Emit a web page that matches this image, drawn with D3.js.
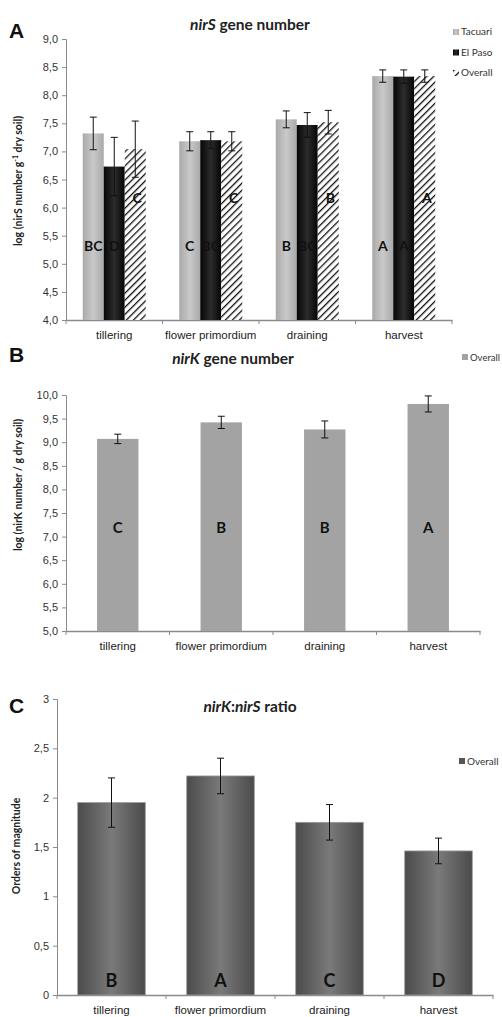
<!DOCTYPE html>
<html>
<head>
<meta charset="utf-8">
<script src="https://cdn.jsdelivr.net/npm/d3@7"></script>
<style>
  body { margin: 0; background: #fff; }
  svg { display: block; font-family: Lato, "Liberation Sans", sans-serif; }
</style>
</head>
<body>
<script>
// stades de culture
const stages = ["tillering", "flower primordium", "draining", "harvest"]

// panneau A : nirS (log)
const nirSTacuari = [7.32, 7.18, 7.57, 8.34]
const nirSTacuariErr = [0.29, 0.17, 0.15, 0.11]
const nirSElPaso = [6.73, 7.20, 7.47, 8.33]
const nirSElPasoErr = [0.52, 0.15, 0.22, 0.12]
const nirSOverall = [7.04, 7.18, 7.52, 8.34]
const nirSOverallErr = [0.50, 0.17, 0.21, 0.11]
const nirSLetters = [["BC", "D", "C"], ["C", "BC", "C"], ["B", "BC", "B"], ["A", "A", "A"]]
const nirSTicks = [4.0, 4.5, 5.0, 5.5, 6.0, 6.5, 7.0, 7.5, 8.0, 8.5, 9.0]

// panneau B : nirK (log)
const nirKOverall = [9.07, 9.42, 9.27, 9.81]
const nirKOverallErr = [0.10, 0.13, 0.18, 0.17]
const nirKLetters = ["C", "B", "B", "A"]
const nirKTicks = [5.0, 5.5, 6.0, 6.5, 7.0, 7.5, 8.0, 8.5, 9.0, 9.5, 10.0]

// panneau C : ratio nirK:nirS
const ratioOverall = [1.95, 2.22, 1.75, 1.46]
const ratioOverallErr = [0.25, 0.18, 0.18, 0.13]
const ratioLetters = ["B", "A", "C", "D"]
const ratioTicks = [0, 0.5, 1, 1.5, 2, 2.5, 3]

const fmt = v => (Number.isInteger(v) && v < 4 ? String(v) : d3.format(".1f")(v).replace(".", ","))

const svg = d3.select("body").append("svg")
    .attr("width", 502)
    .attr("height", 1017)

const defs = svg.append("defs")

// dégradés
function hGrad(id, edge, mid) {
    const g = defs.append("linearGradient").attr("id", id)
        .attr("x1", "0%").attr("x2", "100%").attr("y1", "0%").attr("y2", "0%")
    g.append("stop").attr("offset", "0%").attr("stop-color", edge)
    g.append("stop").attr("offset", "50%").attr("stop-color", mid)
    g.append("stop").attr("offset", "100%").attr("stop-color", edge)
}
hGrad("gTac", "#a9a9a9", "#c9c9c9")
hGrad("gElp", "#050505", "#2c2c2c")
hGrad("gRat", "#4b4b4b", "#7a7a7a")

// hachures
const pat = defs.append("pattern").attr("id", "hatch")
    .attr("patternUnits", "userSpaceOnUse")
    .attr("width", 5).attr("height", 5)
    .attr("patternTransform", "rotate(45)")
pat.append("rect").attr("width", 5).attr("height", 5).attr("fill", "#fff")
pat.append("line").attr("x1", 0).attr("y1", 0).attr("x2", 0).attr("y2", 5)
    .attr("stroke", "#111").attr("stroke-width", 2.6)

// axes communs
function drawAxes(x, y, ticks, tickLen) {
    const [x0, x1] = x.range()
    const [yb] = y.range()
    const g = svg.append("g")
    g.append("g")
        .attr("transform", `translate(${x0},0)`)
        .call(d3.axisLeft(y).tickValues(ticks).tickFormat(fmt).tickSize(tickLen).tickPadding(4))
        .call(a => a.select(".domain").attr("stroke", "#8a8a8a"))
        .call(a => a.selectAll(".tick line").attr("stroke", "#8a8a8a"))
        .call(a => a.selectAll("text").attr("font-size", 11).attr("fill", "#333"))

    g.append("g")
        .attr("transform", `translate(0,${yb})`)
        .call(d3.axisBottom(x).tickSize(0).tickPadding(11))
        .call(a => a.select(".domain").attr("stroke", "#8a8a8a").attr("stroke-width", 1.3))
        .call(a => a.selectAll("text").attr("font-size", 11.5).attr("fill", "#222"))

    // graduations entre les catégories
    const bounds = d3.range(x.domain().length + 1).map(i => x0 + i * x.step())
    g.selectAll(".bt").data(bounds).enter().append("line")
        .attr("x1", d => d).attr("x2", d => d)
        .attr("y1", yb).attr("y2", yb + 4)
        .attr("stroke", "#8a8a8a")
}

function errBars(g, data, cx, y, cap) {
    g.selectAll(null).data(data).enter().append("path")
        .attr("d", d => {
            const xc = cx(d), t = y(d.v + d.e), b = y(d.v - d.e)
            return `M${xc},${t}V${b}M${xc - cap},${t}H${xc + cap}M${xc - cap},${b}H${xc + cap}`
        })
        .attr("stroke", "#111").attr("stroke-width", 1).attr("fill", "none")
}

function yLabel(x, yc, parts) {
    const t = svg.append("text")
        .attr("transform", `translate(${x},${yc}) rotate(-90)`)
        .attr("text-anchor", "middle")
        .attr("font-size", 10.5).attr("font-weight", "bold").attr("fill", "#222")
    parts.forEach(p => {
        const s = t.append("tspan").text(p.t)
        if (p.sup) s.attr("baseline-shift", "super").attr("font-size", 7)
    })
}

function title(xc, yc, parts) {
    const t = svg.append("text")
        .attr("x", xc).attr("y", yc)
        .attr("text-anchor", "middle")
        .attr("font-size", 15.5).attr("font-weight", "bold").attr("fill", "#222")
    parts.forEach(p => {
        const s = t.append("tspan").text(p.t)
        if (p.i) s.attr("font-style", "italic")
    })
}

function panelLetter(x, y, l) {
    svg.append("text").attr("x", x).attr("y", y).text(l)
        .attr("font-family", "Liberation Sans, Arial, sans-serif")
        .attr("font-size", 21).attr("font-weight", "bold").attr("fill", "#111")
}

// ---------- panneau A ----------
{
    const x = d3.scaleBand().domain(stages).range([66, 452]).paddingInner(0.347).paddingOuter(0.1735)
    const y = d3.scaleLinear().domain([4, 9]).range([320, 39])
    const series = ["Tacuari", "El Paso", "Overall"]
    const x1 = d3.scaleBand().domain(series).range([0, x.bandwidth()])
    const fills = { "Tacuari": "url(#gTac)", "El Paso": "url(#gElp)", "Overall": "url(#hatch)" }
    const vals = { "Tacuari": nirSTacuari, "El Paso": nirSElPaso, "Overall": nirSOverall }
    const errs = { "Tacuari": nirSTacuariErr, "El Paso": nirSElPasoErr, "Overall": nirSOverallErr }

    const data = []
    stages.forEach((s, i) => series.forEach((k, j) => data.push({ s, k, v: vals[k][i], e: errs[k][i], l: nirSLetters[i][j] })))

    drawAxes(x, y, nirSTicks, 4)
    const g = svg.append("g")
    g.selectAll("rect").data(data).enter().append("rect")
        .attr("x", d => x(d.s) + x1(d.k))
        .attr("y", d => y(d.v))
        .attr("width", x1.bandwidth())
        .attr("height", d => y(4) - y(d.v))
        .attr("fill", d => fills[d.k])
    errBars(g, data, d => x(d.s) + x1(d.k) + x1.bandwidth() / 2, y, 3.5)

    g.selectAll(".lt").data(data).enter().append("text")
        .attr("x", d => x(d.s) + x1(d.k) + x1.bandwidth() / 2 + (d.k === "Overall" ? 2 : 0))
        .attr("y", d => d.k === "Overall" ? 203 : 251)
        .attr("text-anchor", "middle")
        .attr("font-size", 14).attr("font-weight", "bold").attr("fill", "#111")
        .text(d => d.l)

    title(250, 30, [{ t: "nirS", i: true }, { t: " gene number" }])
    panelLetter(9, 38, "A")
    yLabel(22, 181, [{ t: "log (nirS number g" }, { t: "-1", sup: true }, { t: " dry soil)" }])

    // légende
    const lg = svg.append("g").attr("font-size", 10).attr("fill", "#333")
    series.forEach((k, j) => {
        const yy = 33 + j * 20.5
        lg.append("rect").attr("x", 453).attr("y", yy - 4).attr("width", 6).attr("height", 6).attr("fill", fills[k])
        lg.append("text").attr("x", 461).attr("y", yy + 2).text(k).attr("fill", "#333")
    })
}

// ---------- panneau B ----------
{
    const x = d3.scaleBand().domain(stages).range([66, 480]).paddingInner(0.6).paddingOuter(0.3)
    const y = d3.scaleLinear().domain([5, 10]).range([631, 395])
    const data = stages.map((s, i) => ({ s, v: nirKOverall[i], e: nirKOverallErr[i], l: nirKLetters[i] }))

    drawAxes(x, y, nirKTicks, 4)
    const g = svg.append("g")
    g.selectAll("rect").data(data).enter().append("rect")
        .attr("x", d => x(d.s))
        .attr("y", d => y(d.v))
        .attr("width", x.bandwidth())
        .attr("height", d => y(5) - y(d.v))
        .attr("fill", "#a3a3a3")
    errBars(g, data, d => x(d.s) + x.bandwidth() / 2, y, 3.5)
    g.selectAll(".lt").data(data).enter().append("text")
        .attr("x", d => x(d.s) + x.bandwidth() / 2)
        .attr("y", 533)
        .attr("text-anchor", "middle")
        .attr("font-size", 15).attr("font-weight", "bold").attr("fill", "#111")
        .text(d => d.l)

    title(233, 364, [{ t: "nirK", i: true }, { t: " gene number" }])
    panelLetter(9, 362, "B")
    yLabel(22, 485, [{ t: "log (nirK number / g dry soil)" }])

    svg.append("rect").attr("x", 462).attr("y", 354).attr("width", 6).attr("height", 6).attr("fill", "#a3a3a3")
    svg.append("text").attr("x", 500).attr("y", 361).attr("text-anchor", "end")
        .text("Overall").attr("font-size", 9.5).attr("fill", "#333")
}

// ---------- panneau C ----------
{
    const x = d3.scaleBand().domain(stages).range([57, 493]).paddingInner(0.38).paddingOuter(0.19)
    const y = d3.scaleLinear().domain([0, 3]).range([995, 699])
    const data = stages.map((s, i) => ({ s, v: ratioOverall[i], e: ratioOverallErr[i], l: ratioLetters[i] }))

    drawAxes(x, y, ratioTicks, 4)
    const g = svg.append("g")
    g.selectAll("rect").data(data).enter().append("rect")
        .attr("x", d => x(d.s))
        .attr("y", d => y(d.v))
        .attr("width", x.bandwidth())
        .attr("height", d => y(0) - y(d.v))
        .attr("fill", "url(#gRat)")
        .attr("stroke", "#9a9a9a").attr("stroke-width", 0.8)
    errBars(g, data, d => x(d.s) + x.bandwidth() / 2, y, 3.5)
    g.selectAll(".lt").data(data).enter().append("text")
        .attr("x", d => x(d.s) + x.bandwidth() / 2)
        .attr("y", 987)
        .attr("text-anchor", "middle")
        .attr("font-size", 18).attr("font-weight", "bold").attr("fill", "#111")
        .text(d => d.l)

    title(250, 712, [{ t: "nirK", i: true }, { t: ":" }, { t: "nirS", i: true }, { t: " ratio" }])
    panelLetter(9, 713, "C")
    yLabel(20, 846, [{ t: "Orders of magnitude" }])

    svg.append("rect").attr("x", 459).attr("y", 758).attr("width", 6).attr("height", 6).attr("fill", "#555")
    svg.append("text").attr("x", 467).attr("y", 765).text("Overall").attr("font-size", 10).attr("fill", "#333")
}
</script>
</body>
</html>
